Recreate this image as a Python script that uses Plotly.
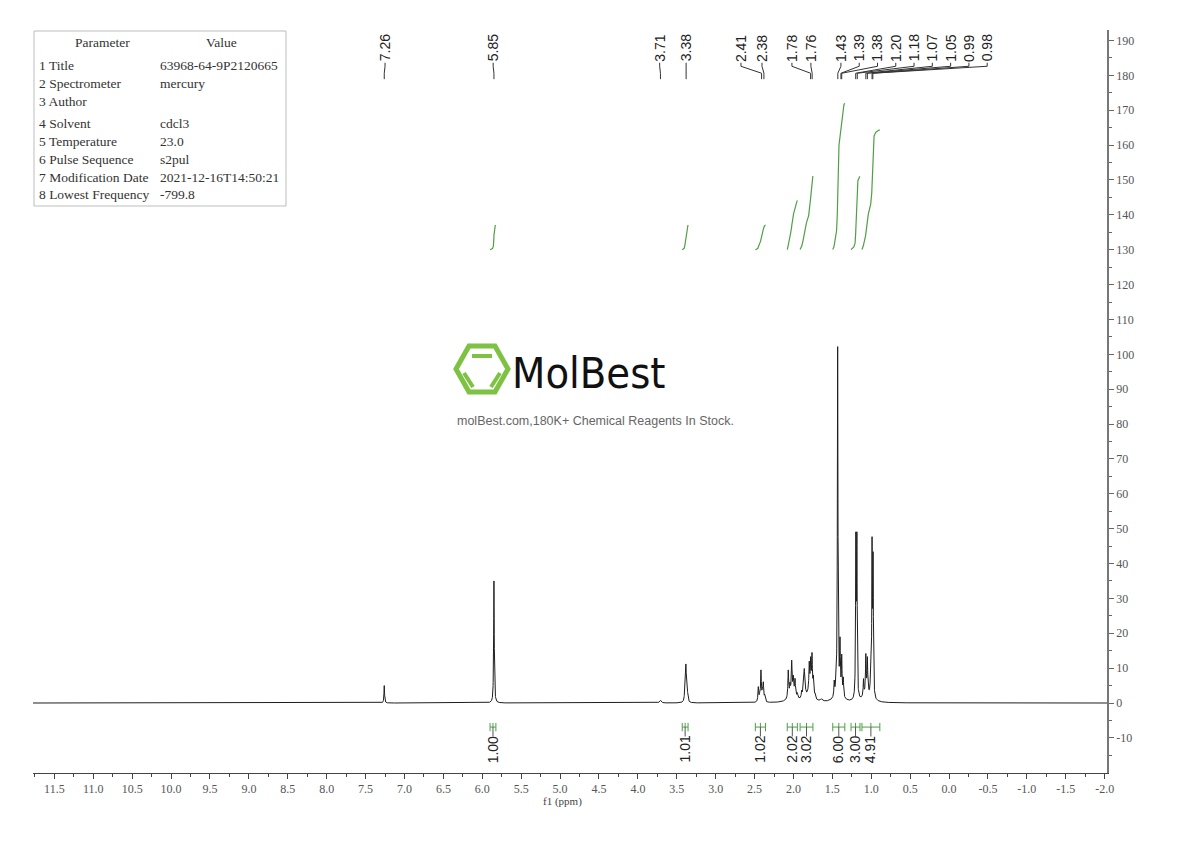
import numpy as np
import plotly.graph_objects as go

# ---------------- data ----------------
# narrow resonance lines: position (ppm) and apparent height (intensity units)
peak_ppm = [7.26, 5.85, 3.71,
            3.395, 3.383, 3.371, 3.36,
            2.452, 2.435, 2.418, 2.40, 2.388, 2.37,
            2.067, 2.045, 2.023, 2.002, 1.98, 1.95,
            1.895, 1.874, 1.861, 1.843,
            1.797, 1.779, 1.762, 1.745, 1.724, 1.64,
            1.476, 1.454, 1.432, 1.402, 1.38, 1.36,
            1.198, 1.185, 1.10, 1.07, 1.05, 1.01, 0.99, 0.977]
peak_height = [5.0, 35.0, 0.8,
               7.0, 11.2, 8.5, 3.0,
               4.7, 3.0, 9.5, 4.5, 6.1, 2.5,
               9.5, 6.0, 12.3, 8.0, 7.1, 3.0,
               3.7, 8.0, 9.9, 4.0,
               12.0, 13.3, 14.5, 8.0, 3.0, 1.2,
               6.6, 10.0, 102.2, 19.0, 14.0, 7.5,
               49.1, 49.1, 7.0, 14.2, 13.3, 9.0, 47.7, 43.4]
peak_hwhm = [0.0045, 0.0045, 0.012,
             0.0055, 0.0055, 0.0055, 0.0055,
             0.006, 0.006, 0.006, 0.006, 0.006, 0.006,
             0.006, 0.006, 0.006, 0.006, 0.006, 0.006,
             0.006, 0.006, 0.006, 0.006,
             0.006, 0.006, 0.006, 0.006, 0.006, 0.015,
             0.005, 0.005, 0.0045, 0.005, 0.005, 0.005,
             0.0045, 0.0045, 0.005, 0.005, 0.005, 0.005, 0.0045, 0.0045]
# broad underlying humps
hump_ppm = [2.01, 1.80, 1.42, 1.06]
hump_height = [2.5, 2.5, 2.5, 2.5]
hump_hwhm = [0.05, 0.05, 0.05, 0.05]

# peak pick labels
peak_label_ppm = [7.26, 5.85, 3.71, 3.38, 2.41, 2.38, 1.78, 1.76, 1.43, 1.39,
                  1.38, 1.20, 1.18, 1.07, 1.05, 0.99, 0.98]
# integrals
int_start = [5.90, 3.43, 2.49, 2.08, 1.915, 1.495, 1.26, 1.12]
int_end = [5.825, 3.355, 2.36, 1.95, 1.75, 1.34, 1.145, 0.89]
int_value = [1.00, 1.01, 1.02, 2.02, 3.02, 6.00, 3.00, 4.91]

# axis ticks
x_tick_vals = [11.5, 11.0, 10.5, 10.0, 9.5, 9.0, 8.5, 8.0, 7.5, 7.0, 6.5, 6.0, 5.5,
               5.0, 4.5, 4.0, 3.5, 3.0, 2.5, 2.0, 1.5, 1.0, 0.5, 0.0, -0.5, -1.0,
               -1.5, -2.0]
x_tick_text = [f"{v:.1f}" for v in x_tick_vals]
y_tick_vals = [-10, 0, 10, 20, 30, 40, 50, 60, 70, 80, 90, 100, 110, 120, 130,
               140, 150, 160, 170, 180, 190]
y_tick_text = [str(v) for v in y_tick_vals]

# parameter table
param_names = ["1 Title", "2 Spectrometer", "3 Author", "4 Solvent", "5 Temperature",
               "6 Pulse Sequence", "7 Modification Date", "8 Lowest Frequency"]
param_values = ["63968-64-9P2120665", "mercury", "", "cdcl3", "23.0", "s2pul",
                "2021-12-16T14:50:21", "-799.8"]

# ---------------- layout helpers (window pixel -> paper) ----------------
PAGE_OFF = 8          # default body margin of the html page
L, T, PW, PH = 33, 30, 1074, 743
FIG_W, FIG_H = 1190 - PAGE_OFF, 841 - PAGE_OFF
X_RANGE = [11.775, -2.03]
Y_RANGE = [-20.07, 193.0]


def px(xp):
    return (xp - L) / PW


def py(yp):
    return 1 - (yp - T) / PH


def lor(x, x0, w):
    return 1.0 / (1.0 + ((x - x0) / w) ** 2)


# ---------------- build spectrum from the peak list ----------------
P = np.array(peak_ppm)
H = np.array(peak_height)
W = np.array(peak_hwhm)
x = np.union1d(np.arange(-2.03, 11.78, 0.001), P)[::-1]

hump = np.zeros_like(x)
hump_at_p = np.zeros_like(P)
for hp, hh, hw in zip(hump_ppm, hump_height, hump_hwhm):
    hump += hh * lor(x, hp, hw)
    hump_at_p += hh * lor(P, hp, hw)

A = lor(P[:, None], P[None, :], W[None, :])
amp = np.linalg.solve(A, H - hump_at_p)
amp = np.clip(amp, 0.05, None)
y = hump + (amp[None, :] * lor(x[:, None], P[None, :], W[None, :])).sum(axis=1)

GREEN = "#4f9f45"
TXT = "#222222"

fig = go.Figure()
fig.add_trace(go.Scatter(x=x, y=y, mode="lines", line=dict(color="#1e1e1e", width=1),
                         hoverinfo="skip"))

# integral curves
INT_BASE, INT_SCALE = 130.0, 7.0
ix, iy = [], []
for s, e, v in zip(int_start, int_end, int_value):
    m = (x <= s) & (x >= e)
    c = np.cumsum(y[m])
    c = c / c[-1]
    ix += list(x[m]) + [None]
    iy += list(INT_BASE + INT_SCALE * v * c) + [None]
fig.add_trace(go.Scatter(x=ix, y=iy, mode="lines", line=dict(color=GREEN, width=1.2),
                         hoverinfo="skip"))

# integral brackets under the baseline
bx, by = [], []
cx, cy = [], []
annotations = []
BR_Y, BR_T, BR_B = -6.9, -5.7, -8.1
for s, e, v in zip(int_start, int_end, int_value):
    mid = (s + e) / 2
    bx += [s, s, None, s, e, None, e, e, None, mid, mid, None]
    by += [BR_T, BR_B, None, BR_Y, BR_Y, None, BR_T, BR_B, None, BR_Y, BR_T, None]
    cx += [mid, mid, None]
    cy += [BR_Y, -9.6, None]
    annotations.append(dict(x=mid, y=-13.3, xref="x", yref="y", text=f"{v:.2f}",
                            textangle=-90, showarrow=False, xanchor="center",
                            yanchor="middle",
                            font=dict(family="Liberation Sans, Arial", size=14, color=TXT)))
fig.add_trace(go.Scatter(x=bx, y=by, mode="lines", line=dict(color=GREEN, width=1),
                         hoverinfo="skip"))
fig.add_trace(go.Scatter(x=cx, y=cy, mode="lines", line=dict(color="#555", width=1),
                         hoverinfo="skip"))

# peak pick labels and connectors
label_pos_ppm = [7.25, 5.86, 3.72, 3.38, 2.675, 2.405, 2.02, 1.776, 1.39, 1.155,
                 0.92, 0.685, 0.45, 0.215, -0.02, -0.255, -0.49]
lx, ly = [], []
for pv, lp in zip(peak_label_ppm, label_pos_ppm):
    lx += [lp, lp, pv, pv, None]
    ly += [183.6, 182.6, 180.6, 178.9, None]
    annotations.append(dict(x=lp, y=187.8, xref="x", yref="y", text=f"{pv:.2f}",
                            textangle=-90, showarrow=False, xanchor="center",
                            yanchor="middle",
                            font=dict(family="Liberation Sans, Arial", size=14, color=TXT)))
fig.add_trace(go.Scatter(x=lx, y=ly, mode="lines", line=dict(color="#333", width=1),
                         hoverinfo="skip"))

shapes = []
# parameter table
shapes.append(dict(type="rect", xref="paper", yref="paper", x0=px(34), x1=px(286),
                   y0=py(31), y1=py(206), line=dict(color="#bdbdbd", width=1)))
TFONT = dict(family="Liberation Serif, Times New Roman, serif", size=13.5, color="#333")
annotations.append(dict(x=px(102), y=py(43), xref="paper", yref="paper", text="Parameter",
                        showarrow=False, xanchor="center", yanchor="middle", font=TFONT))
annotations.append(dict(x=px(221), y=py(43), xref="paper", yref="paper", text="Value",
                        showarrow=False, xanchor="center", yanchor="middle", font=TFONT))
row_y = [65, 83.5, 101, 123.5, 141.5, 159, 177, 194.5]
for name, val, ry in zip(param_names, param_values, row_y):
    annotations.append(dict(x=px(37), y=py(ry), xref="paper", yref="paper", text=name,
                            showarrow=False, xanchor="left", yanchor="middle", font=TFONT))
    if val:
        annotations.append(dict(x=px(158), y=py(ry), xref="paper", yref="paper", text=val,
                                showarrow=False, xanchor="left", yanchor="middle",
                                font=TFONT))

# logo (hexagon + wordmark)
LOGO_GREEN = "#7dc243"
hexpts = [(456, 369), (469, 346), (495, 346), (508, 369), (495, 392), (469, 392)]
path = "M " + " L ".join(f"{px(a)},{py(b)}" for a, b in hexpts) + " Z"
shapes.append(dict(type="path", xref="paper", yref="paper", path=path,
                   line=dict(color=LOGO_GREEN, width=5)))
for (a0, b0), (a1, b1) in [((472, 356), (492, 356)), ((464, 373), (473, 387)),
                           ((500, 373), (491, 387))]:
    shapes.append(dict(type="line", xref="paper", yref="paper", x0=px(a0), y0=py(b0),
                       x1=px(a1), y1=py(b1), line=dict(color=LOGO_GREEN, width=4)))
annotations.append(dict(x=px(588), y=py(373), xref="paper", yref="paper", text="MolBest",
                        showarrow=False, xanchor="center", yanchor="middle",
                        font=dict(family="DejaVu Sans Condensed, Liberation Sans Narrow, Roboto Condensed, Roboto",
                                  size=43, color="#111")))
annotations.append(dict(x=px(595), y=py(421), xref="paper", yref="paper",
                        text="molBest.com,180K+ Chemical Reagents In Stock.",
                        showarrow=False, xanchor="center", yanchor="middle",
                        font=dict(family="Liberation Sans, Arial", size=12.5, color="#666")))

# x axis title
annotations.append(dict(x=px(562), y=py(801), xref="paper", yref="paper", text="f1 (ppm)",
                        showarrow=False, xanchor="center", yanchor="middle",
                        font=dict(family="Liberation Serif, serif", size=11, color="#444")))

minor_x = [v / 4 for v in range(-8, 48)]
minor_y = [v for v in range(-15, 195, 10)]

fig.update_layout(
    width=FIG_W, height=FIG_H,
    margin=dict(l=L - PAGE_OFF, r=FIG_W - (L - PAGE_OFF) - PW, t=T - PAGE_OFF,
                b=FIG_H - (T - PAGE_OFF) - PH),
    plot_bgcolor="white", paper_bgcolor="white", showlegend=False,
    shapes=shapes, annotations=annotations, hovermode=False,
    xaxis=dict(range=X_RANGE, tickmode="array", tickvals=x_tick_vals, ticktext=x_tick_text,
               ticks="outside", ticklen=5, tickwidth=1, tickcolor="#444",
               showline=True, linecolor="#444", linewidth=1, showgrid=False,
               zeroline=False, mirror=False,
               minor=dict(tickmode="array", tickvals=minor_x, ticks="outside", ticklen=3,
                          tickcolor="#444", showgrid=False),
               tickfont=dict(family="Liberation Serif, serif", size=12, color="#555")),
    yaxis=dict(range=Y_RANGE, side="right", tickmode="array", tickvals=y_tick_vals,
               ticktext=y_tick_text, ticks="outside", ticklen=5, tickwidth=1,
               tickcolor="#666", showline=True, linecolor="#777", linewidth=1.5,
               showgrid=False, zeroline=False,
               minor=dict(tickmode="array", tickvals=minor_y, ticks="outside", ticklen=3,
                          tickcolor="#666", showgrid=False),
               tickfont=dict(family="Liberation Serif, serif", size=12, color="#555")),
)

fig.write_html("out.html")
